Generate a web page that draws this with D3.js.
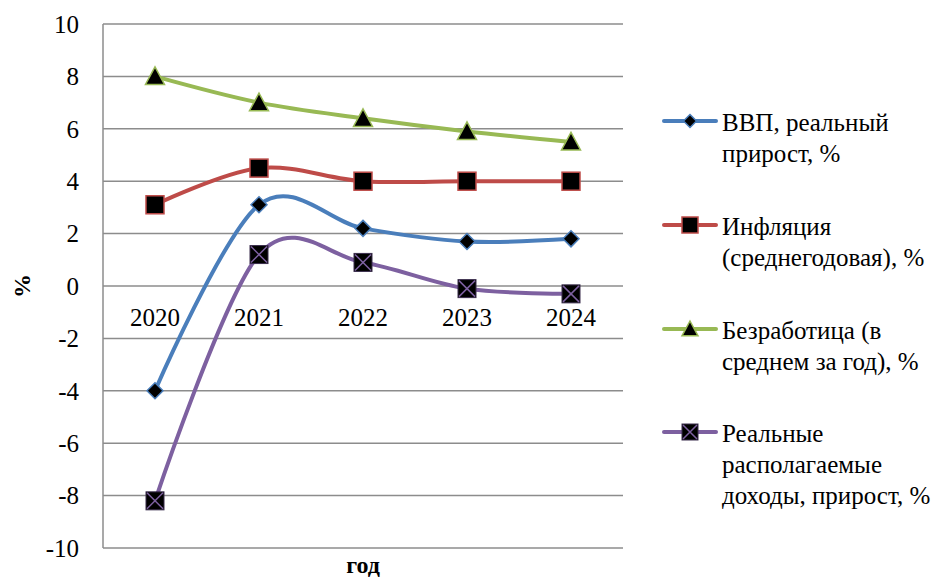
<!DOCTYPE html>
<html>
<head>
<meta charset="utf-8">
<script src="https://cdn.jsdelivr.net/npm/d3@7"></script>
<style>
  body { margin: 0; background: #fff; }
</style>
</head>
<body>
<svg id="chart" width="950" height="579" font-family="'Times New Roman', Tinos, 'Liberation Serif', 'DejaVu Serif', 'Noto Serif', Georgia, serif"></svg>
<script>
const years = ["2020", "2021", "2022", "2023", "2024"];
const gdp = [-4.0, 3.1, 2.2, 1.7, 1.8];
const inflation = [3.1, 4.5, 4.0, 4.0, 4.0];
const unemployment = [8.0, 7.0, 6.4, 5.9, 5.5];
const income = [-8.2, 1.2, 0.9, -0.1, -0.3];
const yTicks = [-10, -8, -6, -4, -2, 0, 2, 4, 6, 8, 10];
const seriesNames = [
    ["ВВП, реальный", "прирост, %"],
    ["Инфляция", "(среднегодовая), %"],
    ["Безработица (в", "среднем за год), %"],
    ["Реальные", "располагаемые", "доходы, прирост, %"]
];

const series = [
    {values: gdp, color: "#4A7EBB", marker: "diamond", name: seriesNames[0]},
    {values: inflation, color: "#BE4B48", marker: "square", name: seriesNames[1]},
    {values: unemployment, color: "#98B954", marker: "triangle", name: seriesNames[2]},
    {values: income, color: "#7D60A0", marker: "cross", name: seriesNames[3]}
];

const plotLeft = 103, plotRight = 623, plotTop = 24, plotBottom = 548;

const svg = d3.select("#chart");

const xScale = d3.scaleBand().domain(years).range([plotLeft, plotRight]);
const cx = d => xScale(d) + xScale.bandwidth() / 2;
const yScale = d3.scaleLinear().domain([-10, 10]).range([plotBottom, plotTop]);

// gridlines
svg.append("g")
    .selectAll("line")
    .data(yTicks)
    .join("line")
    .attr("x1", plotLeft)
    .attr("x2", plotRight)
    .attr("y1", d => yScale(d))
    .attr("y2", d => yScale(d))
    .attr("stroke", "#8c8c8c")
    .attr("stroke-width", 1.5);

svg.append("line")
    .attr("x1", plotLeft).attr("x2", plotLeft)
    .attr("y1", plotTop).attr("y2", plotBottom)
    .attr("stroke", "#8c8c8c")
    .attr("stroke-width", 1.5);

// y tick labels
svg.append("g")
    .selectAll("text")
    .data(yTicks)
    .join("text")
    .attr("x", 79)
    .attr("y", d => yScale(d))
    .attr("dy", "0.35em")
    .attr("text-anchor", "end")
    .attr("font-size", 25)
    .text(d => d);

// category labels sit under the zero line
svg.append("g")
    .selectAll("text")
    .data(years)
    .join("text")
    .attr("x", d => cx(d))
    .attr("y", yScale(0) + 40)
    .attr("text-anchor", "middle")
    .attr("font-size", 25)
    .text(d => d);

svg.append("text")
    .attr("x", (plotLeft + plotRight) / 2)
    .attr("y", 573)
    .attr("text-anchor", "middle")
    .attr("font-size", 24)
    .attr("font-weight", "bold")
    .text("год");

svg.append("text")
    .attr("transform", `translate(30, ${yScale(0)}) rotate(-90)`)
    .attr("text-anchor", "middle")
    .attr("font-size", 24)
    .attr("font-weight", "bold")
    .text("%");

const line = d3.line()
    .x((d, i) => cx(years[i]))
    .y(d => yScale(d))
    .curve(d3.curveCardinal.tension(0));

function drawMarker(g, type, color, size) {
    const h = size / 2;
    if (type === "diamond") {
        g.append("path")
            .attr("d", `M0,${-h}L${h},0L0,${h}L${-h},0Z`)
            .attr("fill", "#000").attr("stroke", color).attr("stroke-width", 1.5);
    } else if (type === "square") {
        g.append("rect")
            .attr("x", -h).attr("y", -h).attr("width", size).attr("height", size)
            .attr("fill", "#000").attr("stroke", color).attr("stroke-width", 1.5);
    } else if (type === "triangle") {
        g.append("path")
            .attr("d", `M0,${-h}L${h},${h * 0.85}L${-h},${h * 0.85}Z`)
            .attr("fill", "#000").attr("stroke", color).attr("stroke-width", 1.5);
    } else {
        g.append("rect")
            .attr("x", -h).attr("y", -h).attr("width", size).attr("height", size)
            .attr("fill", "#000").attr("stroke", "#3a2d4d").attr("stroke-width", 1);
        g.append("path")
            .attr("d", `M${-h + 1},${-h + 1}L${h - 1},${h - 1}M${h - 1},${-h + 1}L${-h + 1},${h - 1}`)
            .attr("stroke", color).attr("stroke-width", 1.5);
    }
}

const markerSize = {diamond: 16, square: 18, triangle: 19, cross: 18};

series.forEach(s => {
    svg.append("path")
        .datum(s.values)
        .attr("d", line)
        .attr("fill", "none")
        .attr("stroke", s.color)
        .attr("stroke-width", 4)
        .attr("stroke-linecap", "round");
});

series.forEach(s => {
    svg.append("g")
        .selectAll("g")
        .data(s.values)
        .join("g")
        .attr("transform", (d, i) => `translate(${cx(years[i])}, ${yScale(d)})`)
        .each(function () { drawMarker(d3.select(this), s.marker, s.color, markerSize[s.marker]); });
});

// legend
const legendY = [121, 225, 329, 432];
series.forEach((s, i) => {
    const g = svg.append("g").attr("transform", `translate(0, ${legendY[i]})`);
    g.append("line")
        .attr("x1", 664).attr("x2", 716)
        .attr("stroke", s.color)
        .attr("stroke-width", 4)
        .attr("stroke-linecap", "round");
    const m = g.append("g").attr("transform", "translate(690, 0)");
    drawMarker(m, s.marker, s.color, s.marker === "diamond" ? 13 : 16);
    g.append("text")
        .attr("x", 722)
        .attr("y", 10)
        .attr("font-size", 25)
        .selectAll("tspan")
        .data(s.name)
        .join("tspan")
        .attr("x", 722)
        .attr("dy", (d, j) => j === 0 ? 0 : 31)
        .text(d => d);
});
</script>
</body>
</html>
